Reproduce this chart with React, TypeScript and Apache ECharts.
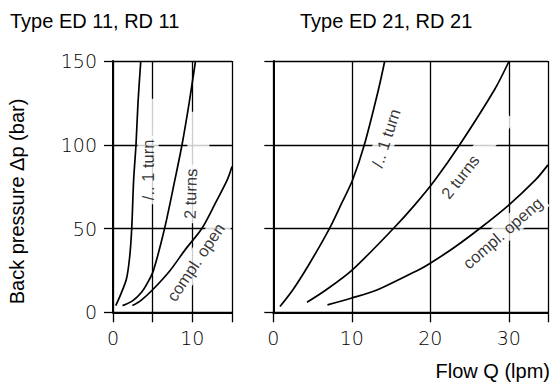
import React, { useEffect, useRef } from 'react';
import * as echarts from 'echarts';

// ---- data ----
const leftXTicks = [0, 5, 10, 15];
const rightXTicks = [0, 10, 20, 30, 35];
const yTicks = [0, 50, 100, 150];

const left1Turn = [[0.35, 4], [1.0, 11], [1.7, 20], [2.1, 33], [2.36, 50], [2.6, 79], [2.9, 100], [3.15, 125], [3.5, 150]];
const left2Turns = [[1.2, 4], [2.5, 7], [3.6, 12], [4.4, 18], [5.1, 25], [6.5, 50], [7.8, 79], [8.7, 100], [9.6, 125], [10.4, 150]];
const leftOpen = [[2.45, 4], [3.5, 7], [4.9, 13], [7.2, 25], [9.2, 38], [11.2, 50], [13, 66], [14.4, 79], [15, 87]];

const right1Turn = [[0.85, 3.5], [2.5, 13.5], [4.6, 29], [7.15, 50], [8.7, 65], [10.1, 79], [11.6, 100], [13.4, 133], [14.2, 150]];
const right2Turns = [[4.3, 6], [6.7, 13.3], [10, 25], [15.3, 50], [18, 64], [20.6, 79], [23.75, 100], [28.2, 133], [30.05, 150]];
const rightOpen = [[6.9, 4.4], [9.9, 8.4], [13.2, 13.3], [18.5, 25.3], [20, 29.3], [23, 38.5], [26.3, 50], [30, 64], [33.4, 79], [35, 88]];

const leftLabelTexts = ['/.. 1 turn', '2 turns', 'compl. open'];
const leftLabelPos = [[4.43, 85], [9.75, 70.7], [10.4, 30]];
const leftLabelRot = [90, 88, 56];

const rightLabelTexts = ['/.. 1 turn', '2 turns', 'compl. openg'];
const rightLabelPos = [[14.34, 104], [23.8, 80.9], [29.2, 47.4]];
const rightLabelRot = [72, 52, 41];

// white masks that interrupt grid lines next to labels
const leftMaskPos = [[4.68, 115.5], [10.76, 102.4]];
const leftMaskSize = [[14, 40], [22, 58]];
const rightMaskPos = [[27.8, 104.8]];
const rightMaskSize = [[55, 18]];
const rightMaskRot = [52];

const panelTitles = ['Type ED 11, RD 11', 'Type ED 21, RD 21'];
const yName = 'Back pressure \u0394p (bar)';
const xName = 'Flow Q (lpm)';

const SANS = '"Liberation Sans", Arial, Helvetica, sans-serif';
const TICKFONT = '"DejaVu Sans", sans-serif';

export default function App() {
  const ref = useRef<HTMLDivElement>(null);

  useEffect(() => {
    if (!ref.current) return;
    const chart = echarts.init(ref.current, null, { renderer: 'svg' });

    const axisCommon = {
      type: 'value' as const,
      axisLine: { show: true, onZero: false, lineStyle: { color: '#000', width: 2 } },
      axisTick: { show: true, length: 9, lineStyle: { color: '#000', width: 1.3 } },
      splitLine: { show: true, lineStyle: { color: '#000', width: 1.3 } },
      axisLabel: { fontFamily: TICKFONT, fontWeight: 200, fontSize: 19, color: '#000' },
    };

    const lineSeries = (data: number[][], idx: number) => ({
      type: 'line',
      xAxisIndex: idx,
      yAxisIndex: idx,
      data,
      smooth: 0.3,
      symbol: 'none',
      lineStyle: { color: '#000', width: 1.7 },
      z: 4,
      silent: true,
    });

    const labelSeries = (pos: number[][], texts: string[], rots: number[], idx: number) => ({
      type: 'scatter',
      xAxisIndex: idx,
      yAxisIndex: idx,
      symbolSize: 0,
      z: 3,
      silent: true,
      data: pos.map((p, i) => ({
        value: p,
        label: {
          show: true,
          position: 'inside',
          formatter: texts[i],
          rotate: rots[i],
          fontFamily: SANS,
          fontSize: 16.5,
          color: '#000',
          backgroundColor: '#fff',
          padding: [2, 4, 2, 4],
        },
      })),
    });

    const maskSeries = (pos: number[][], sizes: number[][], rots: number[], idx: number) => ({
      type: 'scatter',
      xAxisIndex: idx,
      yAxisIndex: idx,
      symbol: 'rect',
      z: 2,
      silent: true,
      data: pos.map((p, i) => ({
        value: p,
        symbolSize: sizes[i],
        symbolRotate: rots[i],
        itemStyle: { color: '#fff' },
      })),
    });

    chart.setOption({
      animation: false,
      backgroundColor: '#fff',
      grid: [
        { left: 113, top: 61, width: 119, height: 251.3 },
        { left: 273.3, top: 61, width: 277.7, height: 251.3 },
      ],
      xAxis: [
        {
          ...axisCommon,
          gridIndex: 0,
          min: leftXTicks[0],
          max: leftXTicks[leftXTicks.length - 1],
          interval: 5,
          axisTick: { ...axisCommon.axisTick, length: 10 },
          axisLabel: {
            ...axisCommon.axisLabel,
            margin: 16,
            formatter: (v: number) => (v === 0 || v === 10 ? String(v) : ''),
          },
        },
        {
          ...axisCommon,
          gridIndex: 1,
          min: rightXTicks[0],
          max: rightXTicks[rightXTicks.length - 1],
          interval: 10,
          axisTick: { ...axisCommon.axisTick, length: 10 },
          axisLabel: {
            ...axisCommon.axisLabel,
            margin: 16,
            formatter: (v: number) => (v === 35 ? '' : String(v)),
          },
        },
      ],
      yAxis: [
        {
          ...axisCommon,
          gridIndex: 0,
          min: yTicks[0],
          max: yTicks[yTicks.length - 1],
          interval: 50,
          axisLabel: { ...axisCommon.axisLabel, margin: 16 },
        },
        {
          ...axisCommon,
          gridIndex: 1,
          min: yTicks[0],
          max: yTicks[yTicks.length - 1],
          interval: 50,
          axisLabel: { show: false },
        },
      ],
      series: [
        maskSeries(leftMaskPos, leftMaskSize, [0, 0], 0),
        maskSeries(rightMaskPos, rightMaskSize, rightMaskRot, 1),
        labelSeries(leftLabelPos, leftLabelTexts, leftLabelRot, 0),
        labelSeries(rightLabelPos, rightLabelTexts, rightLabelRot, 1),
        lineSeries(left1Turn, 0),
        lineSeries(left2Turns, 0),
        lineSeries(leftOpen, 0),
        lineSeries(right1Turn, 1),
        lineSeries(right2Turns, 1),
        lineSeries(rightOpen, 1),
      ],
      graphic: [
        {
          type: 'text',
          x: 10,
          y: 20.5,
          style: { text: panelTitles[0], font: `20px ${SANS}`, fill: '#000', textAlign: 'left', textVerticalAlign: 'middle' },
        },
        {
          type: 'text',
          x: 300,
          y: 20.5,
          style: { text: panelTitles[1], font: `20px ${SANS}`, fill: '#000', textAlign: 'left', textVerticalAlign: 'middle' },
        },
        {
          type: 'text',
          x: 17,
          y: 201.5,
          rotation: Math.PI / 2,
          style: { text: yName, font: `20px ${SANS}`, fill: '#000', textAlign: 'center', textVerticalAlign: 'middle' },
        },
        {
          type: 'text',
          x: 550,
          y: 371,
          style: { text: xName, font: `20px ${SANS}`, fill: '#000', textAlign: 'right', textVerticalAlign: 'middle' },
        },
      ],
    });

    return () => chart.dispose();
  }, []);

  return (
    <div
      ref={ref}
      style={{ position: 'fixed', left: 0, top: 0, width: 551, height: 383, background: '#fff' }}
    />
  );
}
